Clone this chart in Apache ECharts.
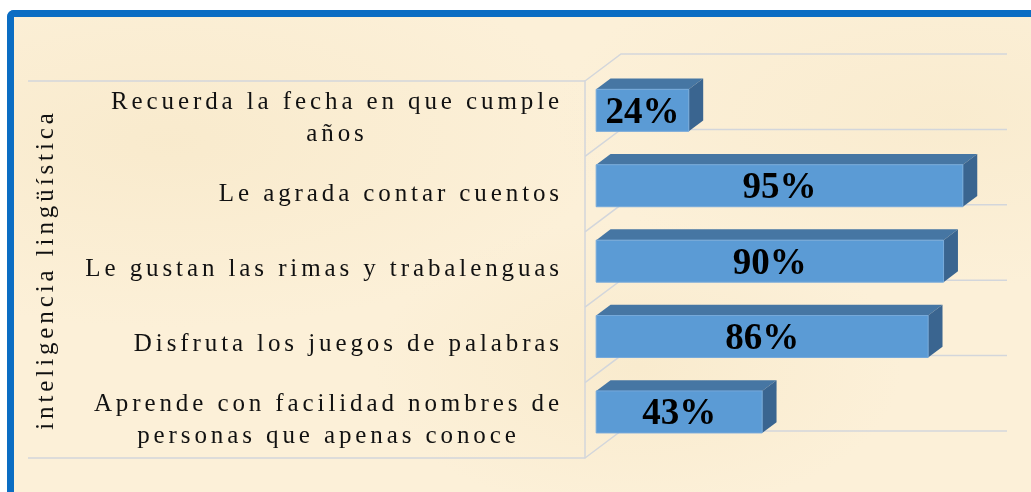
<!DOCTYPE html>
<html>
<head>
<meta charset="utf-8">
<title>inteligencia lingüística</title>
<script src="https://cdn.jsdelivr.net/npm/echarts@6/dist/echarts.min.js"></script>
<style>
  html, body { margin: 0; padding: 0; background: #fff; overflow: hidden; }
  #frame {
    position: absolute; left: 7px; top: 10px; width: 1040px; height: 500px;
    border-left: 7px solid #0B6DC3; border-top: 7px solid #0B6DC3;
    border-top-left-radius: 7px;
    background:
      radial-gradient(ellipse at 15% 25%, rgba(246, 230, 196, 0.55), transparent 35%),
      radial-gradient(ellipse at 60% 70%, rgba(246, 230, 196, 0.5), transparent 30%),
      radial-gradient(ellipse at 90% 20%, rgba(246, 230, 196, 0.45), transparent 30%),
      #FCF0D8;
  }
  #main { position: absolute; left: 0; top: 0; width: 1031px; height: 492px; }
</style>
</head>
<body>
<div id="frame"></div>
<div id="main"></div>
<script>
const categories = [
  'Recuerda la fecha en que cumple\naños',
  'Le agrada contar cuentos',
  'Le gustan las rimas y trabalenguas',
  'Disfruta los juegos de palabras',
  'Aprende con facilidad nombres de\npersonas que apenas conoce'
];
const values = [24, 95, 90, 86, 43];
const axisTitle = 'inteligencia lingüística';

// el texto normal va espaciado como en Excel; las etiquetas en negrita no
const ctxProto = CanvasRenderingContext2D.prototype;
['measureText', 'fillText', 'strokeText'].forEach((fn) => {
  const orig = ctxProto[fn];
  ctxProto[fn] = function () {
    if ('letterSpacing' in this) {
      this.letterSpacing = /bold/.test(this.font) ? '0px' : '3.9px';
    }
    return orig.apply(this, arguments);
  };
});

const DEPTH = [36, -27]; // vector de profundidad del suelo 3D
const BAR_FRONT = 0.31;
const BAR_BACK = 0.71;
const gridColor = '#D3D6DB';

const chart = echarts.init(document.getElementById('main'));

const frameItem = (params, api) => {
  const i = api.value(0);
  const band = api.size([0, 1])[1];
  const c = api.coord([0, i]);
  const xEnd = api.coord([100, i])[0];
  const left = params.coordSys.x - 557;
  const children = [];
  const boundary = (y) => {
    children.push({
      type: 'polyline',
      shape: { points: [[c[0], y], [c[0] + DEPTH[0], y + DEPTH[1]], [xEnd + DEPTH[0], y + DEPTH[1]]] },
      style: { stroke: gridColor, lineWidth: 1.5, fill: null },
    });
  };
  boundary(c[1] - band / 2);
  if (i === 0) {
    children.push({ type: 'line', shape: { x1: left, y1: c[1] - band / 2, x2: c[0], y2: c[1] - band / 2 }, style: { stroke: gridColor, lineWidth: 1.5 } });
  }
  if (i === categories.length - 1) {
    boundary(c[1] + band / 2);
    children.push({ type: 'line', shape: { x1: left, y1: c[1] + band / 2, x2: c[0], y2: c[1] + band / 2 }, style: { stroke: gridColor, lineWidth: 1.5 } });
  }
  return { type: 'group', children };
};

const barItem = (params, api) => {
  const cat = api.value(0);
  const val = api.value(1);
  const start = api.coord([0, cat]);
  const end = api.coord([val, cat]);
  const band = api.size([0, 1])[1];
  const h = band * 0.557;
  const fx = DEPTH[0] * BAR_FRONT, fy = DEPTH[1] * BAR_FRONT;
  const bx = DEPTH[0] * (BAR_BACK - BAR_FRONT), by = DEPTH[1] * (BAR_BACK - BAR_FRONT);
  const x0 = start[0] + fx, x1 = end[0] + fx;
  const y0 = start[1] + fy - h / 2, y1 = y0 + h;
  return {
    type: 'group',
    children: [
      { type: 'polygon', shape: { points: [[x0, y0], [x1, y0], [x1 + bx, y0 + by], [x0 + bx, y0 + by]] }, style: { fill: '#4676A3' } },
      { type: 'polygon', shape: { points: [[x1, y0], [x1 + bx, y0 + by], [x1 + bx, y1 + by], [x1, y1]] }, style: { fill: '#3A6590' } },
      { type: 'rect', shape: { x: x0, y: y0, width: x1 - x0, height: h }, style: { fill: '#5B9BD5', stroke: '#76A9DA', lineWidth: 1 } },
      {
        type: 'text', x: (x0 + x1) / 2, y: (y0 + y1) / 2 + 3,
        style: { text: val + '%', fill: '#000', fontSize: 37, fontWeight: 'bold', fontFamily: 'Liberation Serif', align: 'center', verticalAlign: 'middle' },
      },
    ],
  };
};

const option = {
  animation: false,
  grid: { left: 585, right: 60, top: 81, bottom: 34, outerBoundsMode: 'none' },
  xAxis: { type: 'value', min: 0, max: 100, show: false },
  yAxis: {
    type: 'category',
    data: categories,
    inverse: true,
    name: axisTitle,
    nameLocation: 'middle',
    nameRotate: 90,
    nameGap: 524,
    nameTextStyle: { fontSize: 25, fontFamily: 'Liberation Serif', color: '#111' },
    axisLine: { show: true, lineStyle: { color: gridColor, width: 1.5 } },
    axisTick: { show: false },
    splitLine: { show: false },
    axisLabel: {
      interval: 0,
      margin: 22,
      align: 'right',
      formatter: (v) => v.split('\n').map((l) => '{c|' + l + '}').join('\n'),
      rich: {
        c: { align: 'center', fontSize: 25, fontFamily: 'Liberation Serif', color: '#111', lineHeight: 32 },
      },
    },
  },
  series: [
    {
      type: 'custom',
      renderItem: frameItem,
      data: categories.map((c, i) => [i]),
      encode: { y: 0 },
      z: 1,
      silent: true,
    },
    {
      type: 'custom',
      renderItem: barItem,
      data: values.map((v, i) => [i, v]),
      encode: { y: 0, x: 1 },
      z: 2,
    },
  ],
};
chart.setOption(option);
</script>
</body>
</html>
